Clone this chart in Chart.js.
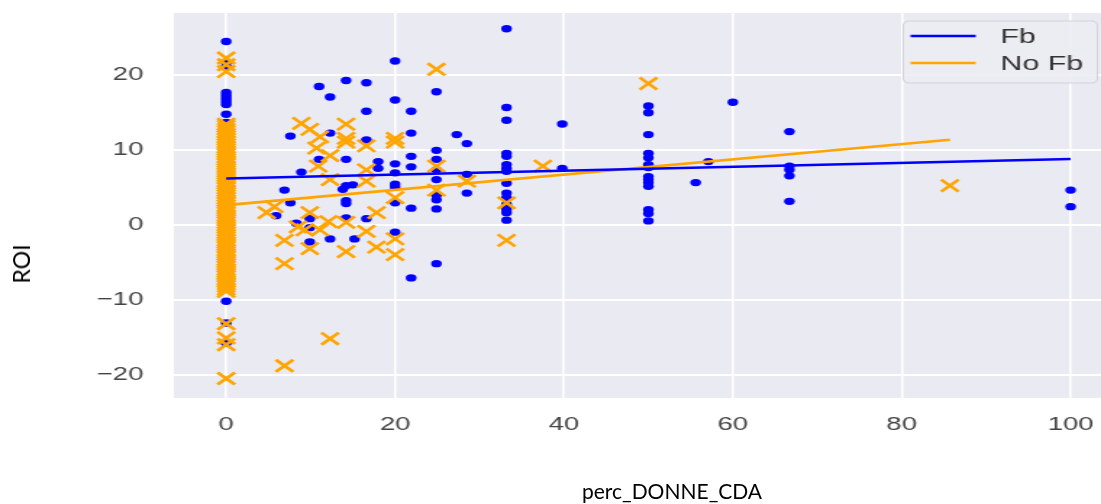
<!DOCTYPE html>
<html>
<head>
<meta charset="utf-8">
<script src="https://cdn.jsdelivr.net/npm/chart.js@4.4.1/dist/chart.umd.min.js"></script>
<style>
html, body { margin:0; padding:0; background:#fff; width:1101px; height:504px; overflow:hidden; }
/* the original picture is stretched sideways, so the canvas is too */
#wrap { position:absolute; left:0; top:0; width:760px; height:504px; transform:scaleX(1.4487); transform-origin:0 0; }
.axlabel { position:absolute; font-family:Lato, "Open Sans", sans-serif; font-size:21px; color:#000; white-space:nowrap; }
#xlabel { left:672px; top:490px; transform:translate(-50%, -50%); }
#ylabel { left:21px; top:264px; font-size:23px; transform:translate(-50%, -50%) rotate(-90deg); }
</style>
</head>
<body>
<div id="wrap"><canvas id="chart" width="760" height="504"></canvas></div>
<div class="axlabel" id="xlabel">perc_DONNE_CDA</div>
<div class="axlabel" id="ylabel">ROI</div>
<script>
//axis ranges and ticks
var xMin = -6.2, xMax = 103.6, yMin = -23.1, yMax = 28.2;
var xTicks = [0, 20, 40, 60, 80, 100];
var yTicks = [-20, -10, 0, 10, 20];
var legendLabels = ["Fb", "No Fb"];

//Fb scatter (blue dots)
var fbX = [
	0,0,0,0,0,0,0,0,0,0,0,0,0,0,0,0,0,0,0,0,0,0,0,0,0,0,0,
	6.9,5.9,7.6,7.6,8.3,8.9,9.9,9.9,9.9,
	11.0,11.0,12.3,12.3,12.3,
	14.2,14.2,14.2,15.0,13.8,14.2,14.2,14.2,15.2,
	16.6,16.6,16.6,16.6,18.0,18.0,
	20,20,20,20,20,20,20,20,
	21.9,21.9,21.9,21.9,21.9,21.9,
	24.9,24.9,24.9,24.9,24.9,24.9,24.9,24.9,24.9,
	27.3,28.5,28.5,28.5,
	33.2,33.2,33.2,33.2,33.2,33.2,33.2,33.2,33.2,33.2,33.2,33.2,33.2,33.2,33.2,
	39.8,39.8,
	50,50,50,50,50,50,50,50,50,50,50,50,50,50,
	55.6,57.1,60,
	66.7,66.7,66.7,66.7,66.7,
	100,100
];
var fbY = [
	24.4,21.6,21.0,17.6,17.2,16.8,16.4,16.0,14.7,13.6,12.4,10.5,8.0,6.0,4.4,2.0,0.5,-1.5,-3.1,-4.3,-4.9,-5.6,-7.1,-8.0,-10.2,-13.1,-15.8,
	4.6,1.2,11.8,2.9,0.2,7.0,0.8,-0.4,-2.3,
	18.4,8.7,17.0,12.2,-1.9,
	19.2,8.7,5.2,5.3,4.7,3.2,2.8,0.9,-1.9,
	18.9,15.1,11.3,0.8,8.4,7.5,
	21.8,16.6,8.1,6.9,5.4,5.0,2.9,-1.0,
	15.1,12.2,9.1,7.7,2.2,-7.1,
	17.7,9.9,8.7,7.3,6.0,3.9,3.3,2.1,-5.2,
	12.0,10.8,6.7,4.2,
	26.1,15.6,13.9,9.5,9.1,8.0,7.5,7.1,5.5,4.2,3.6,2.7,2.0,1.6,0.6,
	13.4,7.5,
	15.8,14.9,12.0,9.5,8.9,8.0,7.6,6.4,6.0,5.6,5.1,2.0,1.5,0.5,
	5.6,8.4,16.3,
	12.4,7.8,7.3,6.5,3.1,
	4.6,2.4
];

//No Fb scatter (orange crosses), the x = 0 column is packed solid
var noFbX = [
	0,0,0,0,0,0,0,0,0,0,0,0,0,0,0,0,0,0,0,
	0,0,0,0,0,0,0,0,0,0,0,0,0,0,0,0,0,0,0,
	0,0,0,0,0,0,0,0,0,0,0,0,0,0,0,0,0,0,0,
	0,0,0,0,0,0,0,0,0,0,0,0,0,0,0,0,0,0,0,
	4.8,5.7,6.9,6.9,6.9,8.5,8.9,9.3,9.9,9.9,9.9,
	10.7,10.9,11.1,11.1,12.1,12.3,12.3,12.3,
	14.2,14.2,14.2,14.2,14.2,
	16.6,16.6,16.6,16.6,17.8,17.8,
	20,20,20,20,20,
	24.9,24.9,24.9,28.5,33.2,33.2,37.5,50,85.7
];
var noFbY = [
	22.2,21.3,20.4,13.4,13.1,12.7,12.4,12.0,11.7,11.4,11.0,10.7,10.3,10.0,9.7,9.4,9.0,8.7,8.4,
	8.1,7.7,7.4,7.1,6.8,6.5,6.2,5.8,5.5,5.2,4.9,4.5,4.2,3.9,3.5,3.2,2.9,2.5,2.2,
	1.9,1.6,1.2,0.9,0.6,0.3,-0.1,-0.4,-0.7,-1.1,-1.4,-1.7,-2.1,-2.4,-2.7,-3.0,-3.4,-3.7,-4.0,
	-4.3,-4.7,-5.0,-5.3,-5.6,-6.0,-6.3,-6.6,-6.9,-7.3,-7.6,-7.9,-8.2,-8.6,-8.9,-13.2,-15.1,-16.0,-20.5,
	1.6,2.4,-2.1,-5.2,-18.8,-0.3,13.5,-0.7,12.7,1.6,-3.2,
	10.2,7.8,11.7,-0.7,0.4,9.2,6.0,-15.2,
	13.4,11.5,11.0,0.3,-3.6,
	10.5,7.3,5.8,-0.9,1.6,-3.0,
	11.5,11.0,3.6,-1.9,-4.0,
	20.7,7.8,4.6,5.8,2.9,-2.1,7.8,18.8,5.2
];

//regression lines, end points
var fbLineX = [0, 100], fbLineY = [6.15, 8.75];
var noFbLineX = [0, 85.7], noFbLineY = [2.6, 11.3];

var fbColor = "#0000ff", noFbColor = "#ffa500";

toPoints = function( xs, ys ){
	var pts = [];
	for( var i = 0; i < xs.length; i++ )
		pts.push( { x: xs[i], y: ys[i] } );
	return pts;
}

//grey plot background like seaborn darkgrid
var plotBg = {
	id: "plotBg",
	beforeDraw: function( chart ){
		var a = chart.chartArea, ctx = chart.ctx;
		ctx.save();
		ctx.fillStyle = "#eaeaf2";
		ctx.fillRect( a.left, a.top, a.right - a.left, a.bottom - a.top );
		ctx.restore();
	}
};

//legend box in the top right corner of the plot
var lineLegend = {
	id: "lineLegend",
	afterDraw: function( chart ){
		var ctx = chart.ctx;
		var colors = [ fbColor, noFbColor ];
		ctx.save();
		ctx.beginPath();
		ctx.roundRect( 623.5, 21, 134, 62, 4 );
		ctx.fillStyle = "rgba(236,236,243,0.9)";
		ctx.fill();
		ctx.strokeStyle = "#d2d2da";
		ctx.lineWidth = 1;
		ctx.stroke();
		ctx.font = "21px 'Liberation Sans', Arial, sans-serif";
		ctx.textBaseline = "middle";
		for( var i = 0; i < legendLabels.length; i++ ){
			var y = 36 + i * 27;
			ctx.strokeStyle = colors[i];
			ctx.lineWidth = 2.4;
			ctx.beginPath();
			ctx.moveTo( 628.5, y );
			ctx.lineTo( 673.5, y );
			ctx.stroke();
			ctx.fillStyle = "#333";
			ctx.fillText( legendLabels[i], 690.5, y + 1 );
		}
		ctx.restore();
	}
};

var tickFont = { family: "'Liberation Sans', Arial, sans-serif", size: 19 };

//keep the x axis from reserving room for its end labels
noSidePadding = function( s ){
	s.height = 106;
	s.paddingLeft = 0;
	s.paddingRight = 0;
}

new Chart( document.getElementById("chart"), {
	type: "scatter",
	data: {
		datasets: [{
			label: legendLabels[0],
			data: toPoints( fbLineX, fbLineY ),
			showLine: true,
			borderColor: fbColor,
			borderWidth: 2.6,
			pointRadius: 0,
			order: 0
		},{
			label: legendLabels[1],
			data: toPoints( noFbLineX, noFbLineY ),
			showLine: true,
			borderColor: noFbColor,
			borderWidth: 2.6,
			pointRadius: 0,
			order: 0
		},{
			label: legendLabels[1] + " points",
			data: toPoints( noFbX, noFbY ),
			pointStyle: "crossRot",
			pointRadius: 8.5,
			borderColor: noFbColor,
			borderWidth: 2.6,
			order: 1
		},{
			label: legendLabels[0] + " points",
			data: toPoints( fbX, fbY ),
			pointStyle: "circle",
			pointRadius: 3.7,
			backgroundColor: fbColor,
			borderColor: fbColor,
			borderWidth: 0,
			order: 2
		}]
	},
	options: {
		responsive: false,
		devicePixelRatio: 1,
		animation: false,
		events: [],
		layout: { autoPadding: false, padding: { top: 13, left: 0, right: 0, bottom: 0 } },
		plugins: {
			legend: { display: false },
			tooltip: { enabled: false }
		},
		scales: {
			x: {
				type: "linear",
				min: xMin,
				max: xMax,
				afterBuildTicks: function( s ){ s.ticks = xTicks.map( function(v){ return { value: v }; } ); },
				afterFit: noSidePadding,
				grid: { color: "#ffffff", lineWidth: 1.6, drawTicks: false },
				border: { display: false },
				ticks: { padding: 15, color: "#444", font: tickFont }
			},
			y: {
				type: "linear",
				min: yMin,
				max: yMax,
				afterBuildTicks: function( s ){ s.ticks = yTicks.map( function(v){ return { value: v }; } ); },
				afterFit: function( s ){ s.width = 120; s.paddingTop = 0; s.paddingBottom = 0; },
				grid: { color: "#ffffff", lineWidth: 2, drawTicks: false },
				border: { display: false },
				ticks: {
					padding: 21,
					color: "#444",
					font: tickFont,
					callback: function( value ){ return value < 0 ? "\u2212" + Math.abs(value) : "" + value; }
				}
			}
		}
	},
	plugins: [ plotBg, lineLegend ]
});
</script>
</body>
</html>
